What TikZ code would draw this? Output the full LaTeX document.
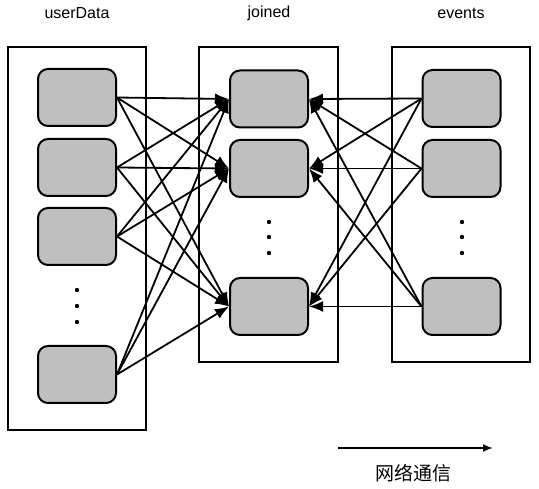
\documentclass[tikz,border=0pt]{standalone}
\usepackage{fontspec}
\setmainfont{Liberation Sans}
\newfontfamily\cjk{Noto Sans CJK SC}
\usetikzlibrary{arrows.meta}

\tikzset{
  part/.style={draw, line width=2pt, fill=black!25, rounded corners=10pt,
    minimum width=78pt, minimum height=57pt, inner sep=0pt},
  container/.style={draw, line width=2pt, inner sep=0pt},
  title/.style={font=\fontsize{16}{19}\selectfont},
  flow/.style={line width=1.8pt, -{Latex[length=14pt,width=11pt]}},
}

\begin{document}
\begin{tikzpicture}[x=1pt,y=-1pt]
\useasboundingbox (0,0) rectangle (539,489);

% Containers
\node (userData) [container, minimum width=138pt, minimum height=383pt] at (77,238.5) {};
\node (joined) [container, minimum width=139pt, minimum height=315pt] at (268.5,204.5) {};
\node (events) [container, minimum width=138pt, minimum height=315pt] at (461,204.5) {};

% Titles
\node[title] (t0) at (77,13) {userData};
\node[title] (t1) at (269,13) {joined};
\node[title] (t2) at (461,13) {events};

% Nodes
\node[part] (u1) at (77,97.5) {};
\node[part] (u2) at (77,167.5) {};
\node[part] (u3) at (77,236.5) {};
\node[part] (u4) at (77,374.5) {};
\node[part] (j1) at (269,99) {};
\node[part] (j2) at (269,168.5) {};
\node[part] (j3) at (269,306.5) {};
\node[part] (e1) at (461.5,98.5) {};
\node[part] (e2) at (461.5,168.5) {};
\node[part] (e3) at (461.5,306.5) {};

% Dots
\fill (77,290) circle (2.2pt) (77,306) circle (2.2pt) (77,322) circle (2.2pt);
\fill (269,222) circle (2.2pt) (269,237) circle (2.2pt) (269,253) circle (2.2pt);
\fill (462,222) circle (2.2pt) (462,237) circle (2.2pt) (462,253) circle (2.2pt);

% Arrows
\draw[flow] (u1.east) -- (j1.west);
\draw[flow] (u1.east) -- (j2.west);
\draw[flow] (u1.east) -- (j3.west);
\draw[flow] (u2.east) -- (j1.west);
\draw[flow] (u2.east) -- (j2.west);
\draw[flow] (u2.east) -- (j3.west);
\draw[flow] (u3.east) -- (j1.west);
\draw[flow] (u3.east) -- (j2.west);
\draw[flow] (u3.east) -- (j3.west);
\draw[flow] (u4.east) -- (j1.west);
\draw[flow] (u4.east) -- (j2.west);
\draw[flow] (u4.east) -- (j3.west);
\draw[flow] (e1.west) -- (j1.east);
\draw[flow] (e1.west) -- (j2.east);
\draw[flow] (e1.west) -- (j3.east);
\draw[flow] (e2.west) -- (j1.east);
\draw[flow] (e2.west) -- (j2.east);
\draw[flow] (e2.west) -- (j3.east);
\draw[flow] (e3.west) -- (j1.east);
\draw[flow] (e3.west) -- (j2.east);
\draw[flow] (e3.west) -- (j3.east);

% Network
\coordinate (netStart) at (338,448);
\coordinate (netEnd) at (493,448);
\draw[line width=1.8pt, -{Latex[length=10pt,width=8pt]}] (netStart) -- (netEnd);
\node[font=\cjk\fontsize{19}{21}\selectfont] (net) at (413,473) {网络通信};

\end{tikzpicture}
\end{document}
